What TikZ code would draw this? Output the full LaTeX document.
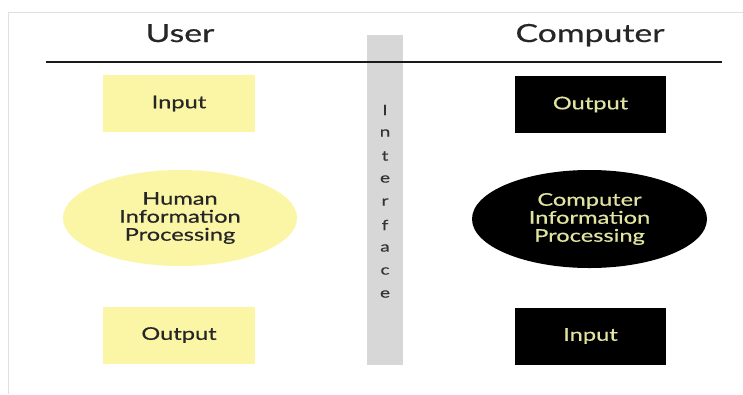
\documentclass[tikz,border=0pt]{standalone}
\usepackage{fontspec}
\setmainfont{Lato}
\newfontfamily\gill[FakeStretch=1.35,FakeBold=0.5]{Lato}
\usetikzlibrary{shapes.geometric}
\definecolor{paleyel}{RGB}{250,246,165}
\definecolor{txtyel}{RGB}{225,228,160}
\definecolor{bargray}{RGB}{215,215,215}
\tikzset{
  x=1pt, y=-1pt,
  body/.style={font=\gill\fontsize{17.5}{18}\selectfont},
  ubox/.style={body, fill=paleyel, draw=none, minimum width=152pt, minimum height=57pt, inner sep=0pt, text=black!85},
  cbox/.style={body, fill=black, draw=none, minimum width=151pt, minimum height=57pt, inner sep=0pt, text=txtyel},
  uell/.style={body, ellipse, fill=paleyel, draw=none, minimum width=234pt, minimum height=96pt, inner sep=0pt, align=center, text=black!85},
  cell/.style={body, ellipse, fill=black, draw=none, minimum width=235pt, minimum height=98pt, inner sep=0pt, align=center, text=txtyel},
  title/.style={font=\gill\fontsize{25}{28}\selectfont, text=black!85, inner sep=0pt, anchor=base},
  iletter/.style={font=\gill\fontsize{14}{16}\selectfont, text=black!80, inner sep=0pt}
}
\begin{document}
\begin{tikzpicture}
\useasboundingbox[fill=white] (0,0) rectangle (743,394);
% faint frame
\draw[black!12, line width=0.8pt] (743,12) -- (8,12) -- (8,394);
% interface bar
\node[fill=bargray, minimum width=36pt, minimum height=330pt, inner sep=0pt] (bar) at (385,200) {};
% divider
\coordinate (l1) at (46,62);
\coordinate (l2) at (722,62);
\draw[line width=2pt, black!90] (l1) -- (l2);
% titles
\node[title] (user) at (180,42) {User};
\node[title] (comp) at (590,42) {Computer};
% interface letters
\foreach \ch [count=\i] in {I,n,t,e,r,f,a,c,e} {
  \node[iletter] (if\i) at (385,{87+23*\i}) {\ch};
}
% left column
\node[ubox] (uin) at (179,103.5) {Input};
\node[uell] (uhip) at (180,218) {Human\\Information\\Processing};
\node[ubox] (uout) at (179,335) {Output};
% right column
\node[cbox] (cout) at (590.5,104.5) {Output};
\node[cell] (chip) at (589.5,219) {Computer\\Information\\Processing};
\node[cbox] (cin) at (590.5,336) {Input};
\end{tikzpicture}
\end{document}
